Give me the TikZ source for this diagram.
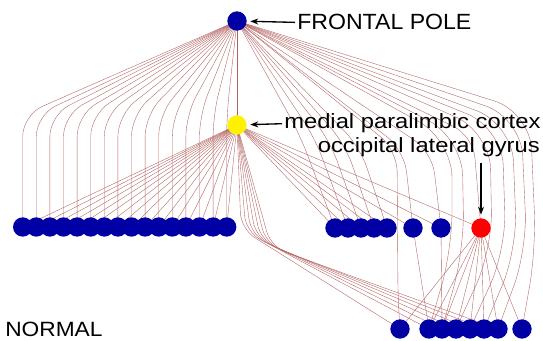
\documentclass[tikz,border=0pt]{standalone}
\usepackage{fontspec}
\setmainfont{Liberation Sans}
\newfontfamily\poleFont[FakeStretch=1.05]{Liberation Sans}
\newfontfamily\cortexFont[FakeStretch=1.15]{Liberation Sans}
\newfontfamily\groupFont[FakeStretch=1.1]{Liberation Sans}
\usetikzlibrary{backgrounds,arrows.meta}
\definecolor{regionblue}{RGB}{0,0,165}
\definecolor{linkred}{RGB}{178,98,98}
\tikzset{
  region/.style={circle, minimum size=14.5pt, inner sep=0pt, fill=regionblue},
  link/.style={draw=linkred, line width=0.28pt},
  bent/.style={link, rounded corners=16pt},
  pointer/.style={draw=black, line width=1pt, -{Stealth[length=6pt,width=4.5pt]},
    shorten <=1.5pt, shorten >=2.5pt},
  caption/.style={inner sep=0pt, text=black}
}
\begin{document}
\begin{tikzpicture}[x=0.75pt,y=-0.75pt]
\useasboundingbox (0,0) rectangle (543,341);

% regions
\node[region] (fp) at (237,21) {};
\node[region, fill=yellow] (mpc) at (237,125) {};
\foreach \i in {1,...,16}
  \node[region] (l\i) at ({22.7+13.6*(\i-1)},227) {};
\foreach \x [count=\i] in {335,348,361,374,387}
  \node[region] (r\i) at (\x,228) {};
\node[region] (s1) at (413,228) {};
\node[region] (s2) at (441,228) {};
\node[region, fill=red] (olg) at (481,228) {};
\foreach \x [count=\i] in {400,429,442,456,470,484,498,522}
  \node[region] (b\i) at (\x,329) {};

% captions
\node[caption, font=\poleFont\fontsize{16.5}{18}\selectfont, anchor=base west] (fpl) at (297,30) {FRONTAL POLE};
\node[caption, font=\cortexFont\fontsize{15.5}{18}\selectfont, anchor=base west] (mpcl) at (284,129) {medial paralimbic cortex};
\node[caption, font=\cortexFont\fontsize{15.5}{18}\selectfont, anchor=base east] (olgl) at (540,153) {occipital lateral gyrus};
\node[caption, font=\groupFont\fontsize{15.5}{18}\selectfont, anchor=base west] (nrm) at (5,337) {NORMAL};

\draw[pointer] (fpl.west) -- (fp);
\draw[pointer] (mpcl.west) -- (mpc);
\coordinate (olgtail) at (481,161);
\draw[pointer] (olgtail) -- (olg);

\begin{scope}[on background layer]
  % frontal pole: down to the medial cortex and over to the left row
  \draw[link] (fp.center) -- (mpc.center);
  \foreach \i in {1,...,16}
    \draw[bent] (fp.center) -- ({22.7+13.6*(\i-1)},115) -- (l\i.center);
  % frontal pole: over to the right row
  \foreach \cx/\cy/\t in {300/135/r1, 315/138/r2, 330/141/r3, 345/144/r4, 360/147/r5,
                          404/150/s1, 432/152/s2, 473/136/olg}
    \draw[bent] (fp.center) -- (\cx,\cy) -- (\t.center);
  \draw[bent] (fp.center) -- (397,150) -- (398,300) -- (b1.center);
  % frontal pole: wide arcs down to the bottom row
  \foreach \ax/\ay/\bx/\by/\t in {452/140/452/250/b2, 462/138/464/250/b3,
                                  490/132/492/250/b4, 502/128/506/250/b5,
                                  512/124/517/250/b6, 521/118/527/250/b7,
                                  530/112/536/250/b8}
    \draw[link, rounded corners=28pt] (fp.center) -- (\ax,\ay) -- (\bx,\by) -- (\t.center);

  % medial cortex: fan to the left row
  \foreach \i in {1,...,16}
    \draw[link] (mpc.center) -- (l\i.center);
  % medial cortex: to the right row
  \foreach \t in {r1,r2,r3,r4,r5,s1,s2,olg}
    \draw[link] (mpc.center) -- (\t.center);
  % medial cortex: down and across to the bottom row
  \foreach \k in {1,...,7}
    \draw[link, rounded corners=12pt] (mpc.center) -- ({236+5*\k},{226+3*\k}) -- (b\k.center);

  % occipital lateral gyrus: fan to the bottom row
  \foreach \k in {1,...,8}
    \draw[link] (olg.center) -- (b\k.center);
  % single regions to the bottom row
  \draw[link] (s1.center) -- (b2.center);
  \draw[link] (s2.center) -- (b3.center);
\end{scope}
\end{tikzpicture}
\end{document}
